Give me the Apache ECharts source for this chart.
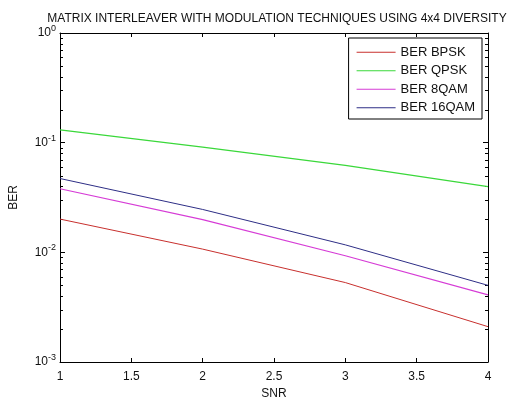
<!DOCTYPE html>
<html>
<head>
<meta charset="utf-8">
<script src="https://cdn.jsdelivr.net/npm/echarts@6/dist/echarts.min.js"></script>
<style>
  html, body { margin: 0; padding: 0; background: #fff; }
  #main { width: 515px; height: 405px; }
</style>
</head>
<body>
<div id="main"></div>
<script>
// data
var snr = [1, 2, 3, 4];
var berBPSK = [0.0201, 0.0107, 0.0053, 0.0021];
var berQPSK = [0.131, 0.091, 0.062, 0.0398];
var ber8QAM = [0.038, 0.0199, 0.0093, 0.0041];
var ber16QAM = [0.0471, 0.0246, 0.0117, 0.0050];
var xTicks = ['1', '1.5', '2', '2.5', '3', '3.5', '4'];

// minor log ticks (2..9 in each decade)
var minorMult = [2, 3, 4, 5, 6, 7, 8, 9];
var decades = [0.001, 0.01, 0.1];
var minorTicks = [];
decades.forEach(function (d) {
  minorMult.forEach(function (m) { minorTicks.push([1, m * d]); });
});

var chart = echarts.init(document.getElementById('main'));

function pairs(ys) {
  return snr.map(function (x, i) { return [x, ys[i]]; });
}

var font = 'Liberation Sans, Arial, sans-serif';

var option = {
  backgroundColor: '#fff',
  animation: false,
  title: {
    text: 'MATRIX INTERLEAVER WITH MODULATION TECHNIQUES USING 4x4 DIVERSITY',
    left: 272,
    textAlign: 'center',
    top: 8,
    textStyle: { fontFamily: font, fontSize: 12, fontWeight: 'normal', color: '#111' }
  },
  legend: {
    data: ['BER BPSK', 'BER QPSK', 'BER 8QAM', 'BER 16QAM'],
    orient: 'vertical',
    right: 33,
    top: 38,
    padding: [7, 7, 4, 8],
    icon: 'rect',
    itemWidth: 39,
    itemHeight: 1,
    itemGap: 4,
    borderColor: '#000',
    borderWidth: 1,
    backgroundColor: '#fff',
    textStyle: { fontFamily: font, fontSize: 13, lineHeight: 14.5, color: '#111' }
  },
  grid: { left: 55, right: 27, top: 33, bottom: 36 },
  xAxis: [{
    type: 'value',
    min: 1, max: 4, interval: 0.5,
    name: 'SNR',
    nameLocation: 'middle',
    nameGap: 26,
    nameTextStyle: { fontFamily: font, fontSize: 12, color: '#111' },
    axisLine: { lineStyle: { color: '#000', width: 1 } },
    axisTick: { inside: true, length: 4, lineStyle: { color: '#000' } },
    axisLabel: {
      fontFamily: font, fontSize: 12, color: '#111', margin: 9,
      formatter: function (v) { return xTicks[Math.round((v - 1) * 2)]; }
    },
    splitLine: { show: false }
  }, {
    type: 'value',
    position: 'top',
    min: 1, max: 4, interval: 0.5,
    axisLine: { lineStyle: { color: '#000', width: 1 } },
    axisTick: { inside: true, length: 4, lineStyle: { color: '#000' } },
    axisLabel: { show: false },
    splitLine: { show: false }
  }],
  yAxis: [{
    type: 'log',
    logBase: 10,
    min: 0.001, max: 1,
    name: 'BER',
    nameLocation: 'middle',
    nameGap: 40,
    nameTextStyle: { fontFamily: font, fontSize: 12, color: '#111' },
    axisLine: { show: true, lineStyle: { color: '#000', width: 1 } },
    axisTick: { inside: true, length: 5, lineStyle: { color: '#000' } },
    axisLabel: {
      margin: 4,
      formatter: function (v) {
        var e = Math.round(Math.log10(v));
        return '{b|10}{s|' + e + '}';
      },
      rich: {
        b: { fontFamily: font, fontSize: 12, color: '#111' },
        s: { fontFamily: font, fontSize: 9, color: '#111', padding: [0, 0, 9, 0] }
      }
    },
    splitLine: { show: false }
  }, {
    type: 'log',
    logBase: 10,
    position: 'right',
    min: 0.001, max: 1,
    axisLine: { show: true, lineStyle: { color: '#000', width: 1 } },
    axisTick: { inside: true, length: 5, lineStyle: { color: '#000' } },
    axisLabel: { show: false },
    splitLine: { show: false }
  }],
  series: [
    { name: 'BER BPSK', type: 'line', data: pairs(berBPSK), symbol: 'none',
      lineStyle: { color: '#c8302e', width: 1 }, itemStyle: { color: '#c8302e' } },
    { name: 'BER QPSK', type: 'line', data: pairs(berQPSK), symbol: 'none',
      lineStyle: { color: '#3ad83a', width: 1.2 }, itemStyle: { color: '#3ad83a' } },
    { name: 'BER 8QAM', type: 'line', data: pairs(ber8QAM), symbol: 'none',
      lineStyle: { color: '#d63cd6', width: 1.2 }, itemStyle: { color: '#d63cd6' } },
    { name: 'BER 16QAM', type: 'line', data: pairs(ber16QAM), symbol: 'none',
      lineStyle: { color: '#2e2e86', width: 1 }, itemStyle: { color: '#2e2e86' } },
    {
      name: 'minor', type: 'custom', silent: true, data: minorTicks,
      renderItem: function (params, api) {
        var p = api.coord([api.value(0), api.value(1)]);
        var cs = params.coordSys;
        var y = Math.round(p[1]) + 0.5;
        return {
          type: 'group',
          children: [
            { type: 'line', shape: { x1: cs.x, y1: y, x2: cs.x + 3, y2: y },
              style: { stroke: '#000', lineWidth: 1 } },
            { type: 'line', shape: { x1: cs.x + cs.width - 3, y1: y, x2: cs.x + cs.width, y2: y },
              style: { stroke: '#000', lineWidth: 1 } }
          ]
        };
      }
    }
  ]
};

chart.setOption(option);
</script>
</body>
</html>
